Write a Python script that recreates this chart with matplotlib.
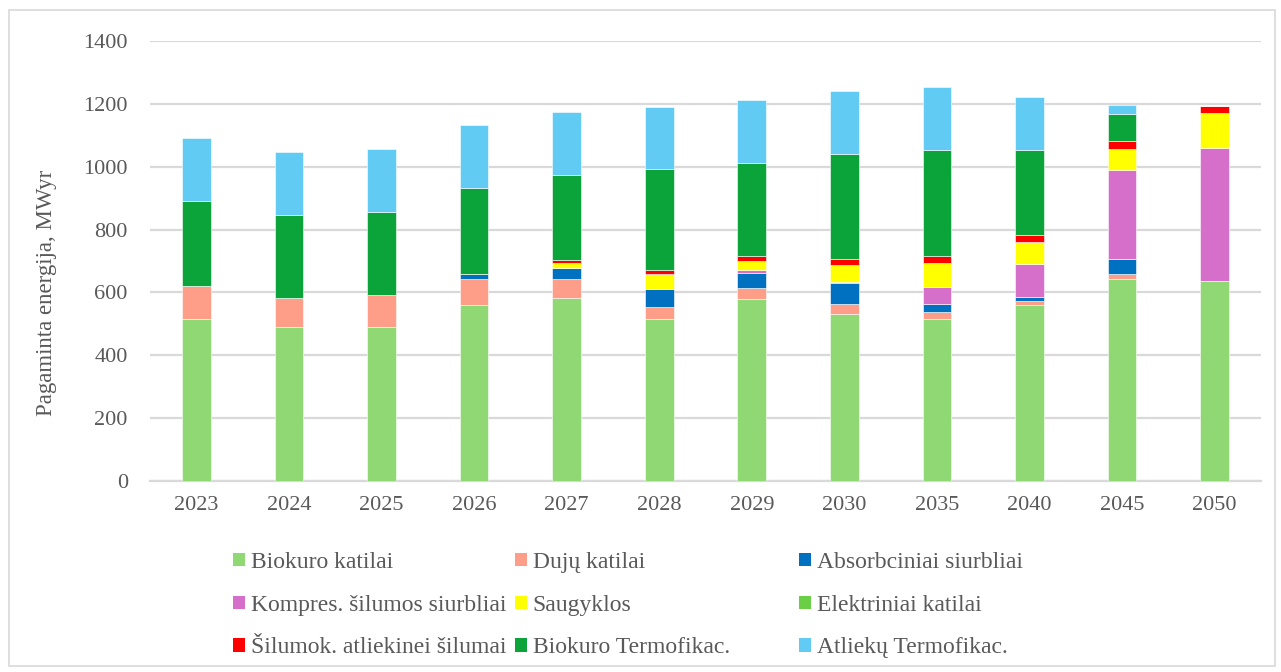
# -*- coding: utf-8 -*-
"""
Pagaminta energija pagal šaltinius - sukrautos stulpelinės diagramos atkūrimas
"""

import numpy as np
import matplotlib
matplotlib.use('Agg')
import matplotlib.pyplot as plt
from matplotlib.patches import Rectangle, Patch

plt.rcParams['font.family'] = ['Liberation Serif', 'DejaVu Serif']

# duomenys (MWyr)
metai = ['2023', '2024', '2025', '2026', '2027', '2028', '2029', '2030', '2035', '2040', '2045', '2050']

biokuro_katilai = [517, 489, 489, 561, 582, 516, 580, 532, 514, 560, 642, 637]
duju_katilai = [105, 94, 104, 83, 61, 39, 34, 31, 25, 13, 17, 0]
absorbciniai = [0, 0, 0, 16, 36, 56, 49, 67, 24, 14, 47, 0]
kompres_siurbliai = [0, 0, 0, 0, 0, 0, 7, 4, 53, 103, 282, 422]
saugyklos = [0, 0, 0, 0, 15, 49, 29, 53, 77, 70, 68, 111]
elektriniai_katilai = [0] * 12
silumok_atliekinei = [0, 0, 0, 0, 9, 11, 17, 20, 23, 23, 25, 24]
biokuro_termofikac = [270, 263, 263, 272, 271, 321, 296, 333, 338, 271, 87, 0]
atlieku_termofikac = [200, 200, 199, 200, 199, 199, 200, 200, 200, 167, 27, 0]

serijos = [
    ('Biokuro katilai', biokuro_katilai, '#8fd873'),
    ('Dujų katilai', duju_katilai, '#ff9e88'),
    ('Absorbciniai siurbliai', absorbciniai, '#0070c0'),
    ('Kompres. šilumos siurbliai', kompres_siurbliai, '#d66fca'),
    ('Saugyklos', saugyklos, '#ffff00'),
    ('Elektriniai katilai', elektriniai_katilai, '#6acf45'),
    ('Šilumok. atliekinei šilumai', silumok_atliekinei, '#ff0000'),
    ('Biokuro Termofikac.', biokuro_termofikac, '#0ba43a'),
    ('Atliekų Termofikac.', atlieku_termofikac, '#62cbf3'),
]

W, H = 1281, 672
fig = plt.figure(figsize=(W / 100, H / 100), dpi=100)
ax = fig.add_axes([150 / W, 1 - 481 / H, (1261 - 150) / W, (481 - 41) / H])

x = np.arange(len(metai))
bottom = np.zeros(len(metai))
for name, vals, color in serijos:
    vals = np.array(vals, dtype=float)
    ax.bar(x, vals, bottom=bottom, width=0.31, color=color,
           edgecolor='white', linewidth=0.4, zorder=3)
    bottom += vals

ax.set_xlim(-0.5, len(metai) - 0.5)
ax.set_ylim(0, 1400)
ax.set_yticks(range(0, 1401, 200))
ax.set_xticks(x)
ax.set_xticklabels(metai)
ax.grid(True, axis='y', color='#d9d9d9', linewidth=1.6, zorder=0)
ax.tick_params(axis='both', length=0, labelsize=16, colors='#595959')
ax.tick_params(axis='y', pad=16)
ax.tick_params(axis='x', pad=11)
for s in ['top', 'right', 'left']:
    ax.spines[s].set_visible(False)
ax.spines['bottom'].set_color('#d9d9d9')
ax.spines['bottom'].set_linewidth(1.6)
ax.set_ylabel('Pagaminta energija, MWyr', fontsize=16.5, color='#595959')
ax.yaxis.set_label_coords((57 - 150) / (1261 - 150), 0.427)

# legenda - trys vienodo pločio stulpeliai kaip Excel'yje
spalvos = {n: c for n, _, c in serijos}
stulpeliai = [
    ['Biokuro katilai', 'Kompres. šilumos siurbliai', 'Šilumok. atliekinei šilumai'],
    ['Dujų katilai', 'Saugyklos', 'Biokuro Termofikac.'],
    ['Absorbciniai siurbliai', 'Elektriniai katilai', 'Atliekų Termofikac.'],
]
x_poz = [233, 515, 799]
for xp, st in zip(x_poz, stulpeliai):
    handles = [Patch(facecolor=spalvos[n], edgecolor='none') for n in st]
    fig.legend(handles, st, loc='upper left', bbox_to_anchor=(xp / W, 1 - 552 / H),
               frameon=False, fontsize=17, labelcolor='#595959',
               handlelength=0.5, handleheight=0.5, handletextpad=0.25,
               labelspacing=0.92, borderpad=0, borderaxespad=0)

fig.add_artist(Rectangle((9 / W, 6 / H), (1275 - 9) / W, (662 - 6) / H,
                         transform=fig.transFigure, fill=False,
                         edgecolor='#d9d9d9', linewidth=1.2))

plt.savefig('out.png', dpi=100)
plt.close()
